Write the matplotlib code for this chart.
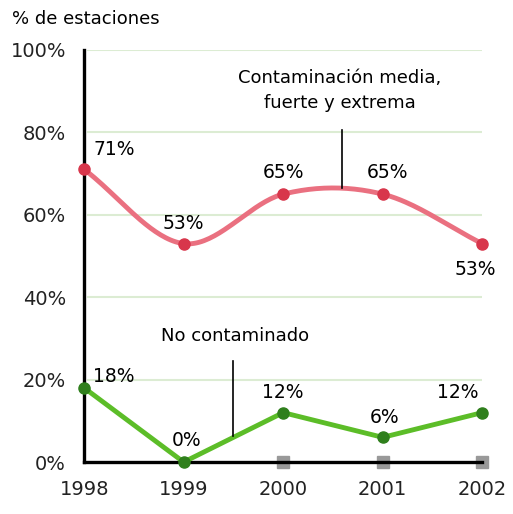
import numpy as np
import matplotlib
matplotlib.use("Agg")
import matplotlib.pyplot as plt

years = [1998, 1999, 2000, 2001, 2002]
contaminada = [71, 53, 65, 65, 53]
no_contaminado = [18, 0, 12, 6, 12]
yticks = [0, 20, 40, 60, 80, 100]
ytick_labels = ["0%", "20%", "40%", "60%", "80%", "100%"]

plt.rcParams['font.family'] = ['DejaVu Sans']

fig = plt.figure(figsize=(5.13, 5.14), dpi=100)
ax = fig.add_axes([0.164, 0.101, 0.776, 0.802])
ax.set_xlim(1998, 2002)
ax.set_ylim(0, 100)

# gridlines
for yv in yticks[1:]:
    ax.axhline(yv, color="#dcecd3", lw=1.5, zorder=0, xmin=0.01)

def catmull(xs, ys, n=40):
    xs = np.asarray(xs, float); ys = np.asarray(ys, float)
    px = np.concatenate([[2*xs[0]-xs[1]], xs, [2*xs[-1]-xs[-2]]])
    py = np.concatenate([[2*ys[0]-ys[1]], ys, [2*ys[-1]-ys[-2]]])
    ox, oy = [], []
    for i in range(1, len(px)-2):
        t = np.linspace(0, 1, n)
        for arr, out in ((px, ox), (py, oy)):
            p0, p1, p2, p3 = arr[i-1], arr[i], arr[i+1], arr[i+2]
            out.extend(0.5*((2*p1) + (-p0+p2)*t + (2*p0-5*p1+4*p2-p3)*t**2 + (-p0+3*p1-3*p2+p3)*t**3))
    return np.array(ox), np.array(oy)

sx, sy = catmull(years, contaminada)
ax.plot(sx, sy, color="#ea7080", lw=3.5, zorder=3, clip_on=False, solid_capstyle="round")
ax.plot(years, contaminada, "o", color="#d8364b", ms=8, zorder=4, clip_on=False)

ax.plot(years, no_contaminado, color="#5cbd28", lw=3.5, zorder=3, clip_on=False)
ax.plot(years, no_contaminado, "o", color="#2f7f1c", ms=8, zorder=4, clip_on=False)

ax.plot(years[2:], [0]*3, "s", color="#999999", ms=8, zorder=2, clip_on=False)

# spines
for s in ["top", "right"]:
    ax.spines[s].set_visible(False)
ax.spines["left"].set_linewidth(2.4)
ax.spines["bottom"].set_linewidth(2.4)
ax.spines["left"].set_zorder(2.5)

ax.set_yticks(yticks)
ax.set_yticklabels(ytick_labels)
ax.set_xticks(years)
ax.set_xticklabels([str(y) for y in years])
ax.tick_params(length=0, labelsize=14, colors="#222222")
ax.tick_params(axis="y", pad=13)
ax.tick_params(axis="x", pad=13)

fs = 13.5
# data labels red
ax.text(1998.09, 73.5, "71%", fontsize=fs, ha="left", va="bottom")
ax.text(1999, 55.5, "53%", fontsize=fs, ha="center", va="bottom")
ax.text(2000, 68, "65%", fontsize=fs, ha="center", va="bottom")
ax.text(2001.05, 68, "65%", fontsize=fs, ha="center", va="bottom")
ax.text(2001.93, 49, "53%", fontsize=fs, ha="center", va="top")
# data labels green
ax.text(1998.09, 18.5, "18%", fontsize=fs, ha="left", va="bottom")
ax.text(1999.03, 3, "0%", fontsize=fs, ha="center", va="bottom")
ax.text(2000, 14.5, "12%", fontsize=fs, ha="center", va="bottom")
ax.text(2001.02, 8.5, "6%", fontsize=fs, ha="center", va="bottom")
ax.text(2001.75, 14.5, "12%", fontsize=fs, ha="center", va="bottom")

# callouts
ax.plot([2000.59, 2000.59], [66.6, 80.5], color="black", lw=1.2, zorder=5)
ax.text(2000.57, 85, "Contaminación media,\nfuerte y extrema", fontsize=13,
        ha="center", va="bottom", linespacing=1.5)
ax.plot([1999.5, 1999.5], [6.3, 24.5], color="black", lw=1.2, zorder=5)
ax.text(1999.52, 28.5, "No contaminado", fontsize=13, ha="center", va="bottom")

fig.text(0.023, 0.963, "% de estaciones", fontsize=13, ha="left", va="center")

fig.savefig("out.png", dpi=100, facecolor="white")
